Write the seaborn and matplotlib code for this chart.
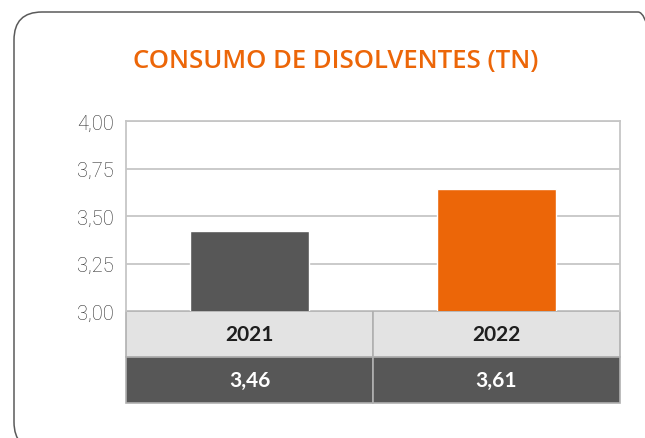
import matplotlib
matplotlib.use("Agg")
import matplotlib.pyplot as plt
from matplotlib.patches import FancyBboxPatch
import seaborn as sns
import pandas as pd

# ---- data ----
years = ["2021", "2022"]
bar_values = [3.42, 3.64]          # bar heights as drawn
table_labels = ["3,46", "3,61"]    # values printed in the table
bar_colors = ["#575757", "#EC6608"]
y_ticks = [3.00, 3.25, 3.50, 3.75, 4.00]
y_tick_labels = ["3,00", "3,25", "3,50", "3,75", "4,00"]
title = "CONSUMO DE DISOLVENTES (TN)"

sns.set_theme(style="white")
plt.rcParams["font.family"] = ["Lato", "DejaVu Sans"]

W, H = 645, 439
fig = plt.figure(figsize=(W / 100, H / 100), dpi=100)
fig.patch.set_facecolor("white")

# rounded card border
card = FancyBboxPatch((0.14, -0.12), 6.52, 4.38,
                      boxstyle="round,pad=0,rounding_size=0.28",
                      transform=fig.dpi_scale_trans, facecolor="none",
                      edgecolor="#5a5a5a", linewidth=1.1, zorder=-1)
fig.patches.append(card)

fig.text(336 / W, 1 - 62 / H, title, ha="center", va="center",
         color="#EC6608", fontsize=18.5, fontweight="semibold",
         family=["Open Sans", "DejaVu Sans"])

ax = fig.add_axes([126 / W, 1 - 312 / H, 494 / W, 190 / H])
df = pd.DataFrame({"year": years, "value": bar_values})
sns.barplot(data=df, x="year", y="value", hue="year", palette=bar_colors,
            width=0.478, legend=False, ax=ax, saturation=1, zorder=3)
ax.set_ylim(3.0, 4.0)
ax.set_yticks(y_ticks)
ax.set_yticklabels(y_tick_labels, fontsize=14.5, color="#2e2e2e",
                   fontweight="light", family=["Roboto", "DejaVu Sans"])
ax.tick_params(axis="y", length=0, pad=9)
ax.tick_params(axis="x", length=0, labelbottom=False)
ax.set_xlabel("")
ax.set_ylabel("")
ax.grid(axis="y", color="#c6c6c6", linewidth=1.3, zorder=0)
ax.set_axisbelow(True)
for s in ["left", "right", "top"]:
    ax.spines[s].set_color("#c6c6c6")
    ax.spines[s].set_linewidth(1.3)
ax.spines["bottom"].set_visible(False)

# table under the axes
tbl = ax.table(cellText=[years, table_labels],
               cellColours=[["#e3e3e3"] * 2, ["#575757"] * 2],
               cellLoc="center", bbox=[0, -92 / 190, 1, 92 / 190])
tbl.auto_set_font_size(False)
for (r, c), cell in tbl.get_celld().items():
    cell.set_edgecolor("#b0b0b0")
    cell.set_linewidth(1.2)
    txt = cell.get_text()
    txt.set_fontsize(15)
    txt.set_fontweight("bold")
    txt.set_color("#1e1e1e" if r == 0 else "white")

fig.savefig("out.png", dpi=100)
